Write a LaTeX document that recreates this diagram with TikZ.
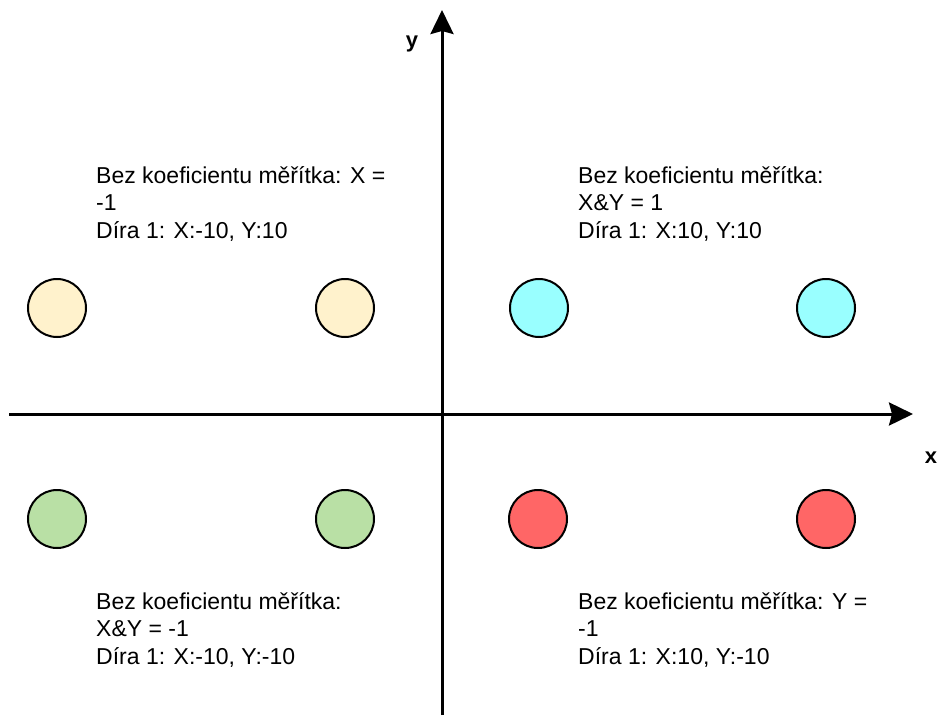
\documentclass[tikz,border=0pt]{standalone}
\usepackage{fontspec}
\setmainfont{Liberation Sans}
\usetikzlibrary{arrows.meta, positioning}

\definecolor{holeyellow}{HTML}{FFF2CC}
\definecolor{holecyan}{HTML}{99FFFF}
\definecolor{holegreen}{HTML}{B9E0A5}
\definecolor{holered}{HTML}{FF6666}

\begin{document}
\begin{tikzpicture}[
      x=1pt, y=-1pt,
      hole/.style={circle, draw, line width=2pt, minimum size=58pt, inner sep=0pt},
      note/.style={anchor=base west, align=left, inner sep=0pt,
                   font=\fontsize{23}{27.3}\selectfont},
      axislabel/.style={anchor=base, inner sep=0pt, font=\fontsize{22}{26}\selectfont\bfseries},
      axis/.style={line width=3pt, -{Stealth[length=24pt, width=23pt, inset=3pt]}}
    ]
    \useasboundingbox (0,0) rectangle (939,715);
    % axes
    \coordinate (xstart) at (9,414);
    \coordinate (xend) at (913,414);
    \coordinate (ystart) at (442,715);
    \coordinate (yend) at (442,10);
    \draw[axis] (xstart) -- (xend);
    \draw[axis] (ystart) -- (yend);
    \node[axislabel] (xlab) at (931,463) {x};
    \node[axislabel] (ylab) at (412,47) {y};
    % holes
    \node[hole, fill=holeyellow] (tl1) at (57,308) {};
    \node[hole, fill=holeyellow] (tl2) at (345,308) {};
    \node[hole, fill=holecyan] (tr1) at (539,308) {};
    \node[hole, fill=holecyan] (tr2) at (826,308) {};
    \node[hole, fill=holegreen] (bl1) at (57,519) {};
    \node[hole, fill=holegreen] (bl2) at (345,519) {};
    \node[hole, fill=holered] (br1) at (538,519) {};
    \node[hole, fill=holered] (br2) at (826,519) {};
    % notes (anchored at the baseline of the last line)
    \node[note] (tlnote) at (96,238) {Bez koeficientu měřítka: X =\\-1\\Díra 1: X:-10, Y:10};
    \node[note] (trnote) at (578,238) {Bez koeficientu měřítka:\\X\&Y = 1\\Díra 1: X:10, Y:10};
    \node[note] (blnote) at (96,664) {Bez koeficientu měřítka:\\X\&Y = -1\\Díra 1: X:-10, Y:-10};
    \node[note] (brnote) at (578,664) {Bez koeficientu měřítka: Y =\\-1\\Díra 1: X:10, Y:-10};
  \end{tikzpicture}
\end{document}
